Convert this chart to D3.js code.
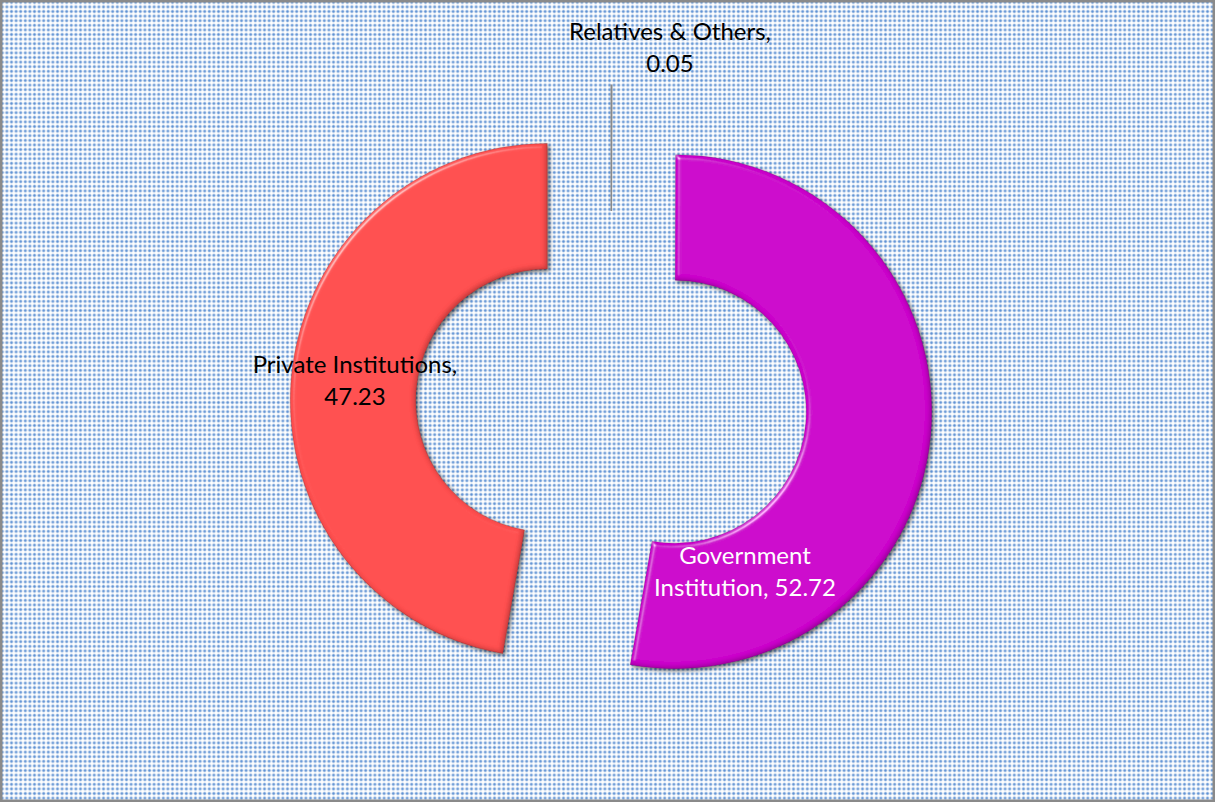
<!DOCTYPE html>
<html>
<head>
<meta charset="utf-8">
<script src="https://cdn.jsdelivr.net/npm/d3@7"></script>
<style>
  html, body { margin: 0; padding: 0; background: #fff; }
  svg { display: block; }
  text { font-family: Lato, "Open Sans", sans-serif; }
</style>
</head>
<body>
<svg id="chart" width="1215" height="802"></svg>
<script>
// ---- data ----
const categories = ["Relatives & Others", "Government Institution", "Private Institutions"];
const values = [0.05, 52.72, 47.23];
const labelLines = [
  ["Relatives & Others,", "0.05"],
  ["Government", "Institution, 52.72"],
  ["Private Institutions,", "47.23"]
];
const colors = ["#7f7f7f", "#cc00cc", "#ff5050"];
const labelColors = ["#000000", "#ffffff", "#000000"];
// label anchor (centre x, first baseline y) – layout
const labelPos = [[670, 40], [745, 564], [355, 373]];

const W = 1215, H = 802;
const cx = 611, cy = 406, R = 257, r = 131.5, explode = 64;

const svg = d3.select("#chart");
const defs = svg.append("defs");

// dotted background pattern
const pat = defs.append("pattern").attr("id", "dots")
  .attr("patternUnits", "userSpaceOnUse").attr("width", 4.6).attr("height", 4.6);
pat.append("rect").attr("width", 4.6).attr("height", 4.6).attr("fill", "#ffffff");
pat.append("circle").attr("cx", 2.3).attr("cy", 2.3).attr("r", 1.9).attr("fill", "#c4d6ee");
pat.append("circle").attr("cx", 2.3).attr("cy", 2.3).attr("r", 1.1).attr("fill", "#5f92d4");

// bevel/shadow filter
const f = defs.append("filter").attr("id", "bevel")
  .attr("x", "-10%").attr("y", "-10%").attr("width", "120%").attr("height", "120%");
// outer drop shadow
f.append("feGaussianBlur").attr("in", "SourceAlpha").attr("stdDeviation", 2.2).attr("result", "blur");
f.append("feOffset").attr("in", "blur").attr("dx", 1.5).attr("dy", 1.5).attr("result", "offBlur");
f.append("feFlood").attr("flood-color", "#000").attr("flood-opacity", 0.6).attr("result", "fc");
f.append("feComposite").attr("in", "fc").attr("in2", "offBlur").attr("operator", "in").attr("result", "shadow");
// top-left highlight edge
f.append("feGaussianBlur").attr("in", "SourceAlpha").attr("stdDeviation", 2).attr("result", "b2");
f.append("feSpecularLighting").attr("in", "b2").attr("surfaceScale", 4).attr("specularConstant", 0.9)
  .attr("specularExponent", 30).attr("lighting-color", "#ffffff").attr("result", "spec")
  .append("feDistantLight").attr("azimuth", 225).attr("elevation", 28);
f.append("feComposite").attr("in", "spec").attr("in2", "SourceAlpha").attr("operator", "in").attr("result", "specIn");
f.append("feComposite").attr("in", "SourceGraphic").attr("in2", "specIn").attr("operator", "arithmetic")
  .attr("k1", 0).attr("k2", 1).attr("k3", 0.5).attr("k4", 0).attr("result", "lit");
// bottom-right inner dark rim
f.append("feOffset").attr("in", "b2").attr("dx", -2.5).attr("dy", -2.5).attr("result", "b2off");
f.append("feComposite").attr("in", "SourceAlpha").attr("in2", "b2off").attr("operator", "out").attr("result", "rimA");
f.append("feFlood").attr("flood-color", "#000").attr("flood-opacity", 0.45).attr("result", "fc2");
f.append("feComposite").attr("in", "fc2").attr("in2", "rimA").attr("operator", "in").attr("result", "rim");
const m = f.append("feMerge");
m.append("feMergeNode").attr("in", "shadow");
m.append("feMergeNode").attr("in", "lit");
m.append("feMergeNode").attr("in", "rim");

svg.append("rect").attr("x", 0).attr("y", 0).attr("width", W).attr("height", H).attr("fill", "url(#dots)");
svg.append("rect").attr("x", 1.25).attr("y", 1.25).attr("width", W - 2.5).attr("height", H - 2.5)
  .attr("fill", "none").attr("stroke", "#8a8a8a").attr("stroke-width", 2.5);

const pie = d3.pie().sort(null).value(d => d)(values);
const arc = d3.arc().innerRadius(r).outerRadius(R);

const g = svg.append("g").attr("transform", `translate(${cx},${cy})`);
g.selectAll("path.slice").data(pie).join("path")
  .attr("class", "slice")
  .attr("d", arc)
  .attr("fill", (d, i) => colors[i])
  .attr("stroke", (d, i) => i === 0 ? "#8a8a8a" : "rgba(0,0,0,0.2)")
  .attr("stroke-width", (d, i) => i === 0 ? 1.2 : 0.6)
  .attr("filter", (d, i) => i === 0 ? null : "url(#bevel)")
  .attr("transform", d => {
    const a = (d.startAngle + d.endAngle) / 2;
    return `translate(${Math.sin(a) * explode},${-Math.cos(a) * explode})`;
  });

// labels
const lg = svg.append("g");
labelLines.forEach((lines, i) => {
  const t = lg.append("text")
    .attr("text-anchor", "middle")
    .attr("font-size", 24)
    .attr("fill", labelColors[i]);
  lines.forEach((ln, j) => {
    t.append("tspan").attr("x", labelPos[i][0]).attr("y", labelPos[i][1] + j * 32).text(ln);
  });
});
</script>
</body>
</html>
